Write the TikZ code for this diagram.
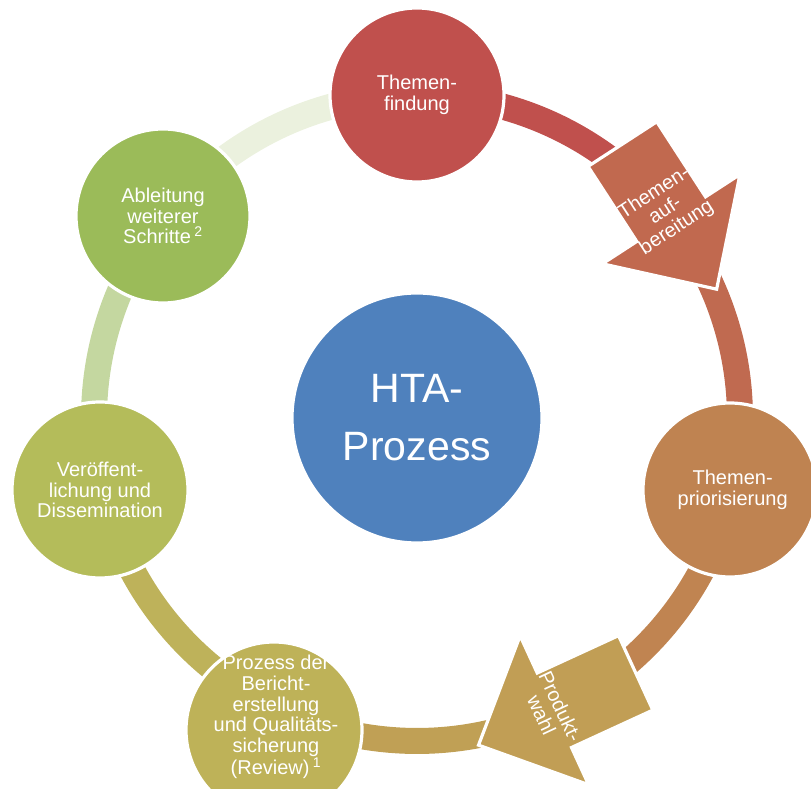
\documentclass[tikz,border=0pt]{standalone}
\usepackage{fontspec}
\setmainfont{Liberation Sans}
\definecolor{cHub}{HTML}{4F81BD}
\definecolor{cFind}{HTML}{C0504D}
\definecolor{cAufb}{HTML}{C1694F}
\definecolor{cArcB}{HTML}{C06A50}
\definecolor{cPrio}{HTML}{BF8351}
\definecolor{cArcC}{HTML}{C08451}
\definecolor{cProd}{HTML}{C19E55}
\definecolor{cArcD}{HTML}{C0A055}
\definecolor{cBer}{HTML}{BEB258}
\definecolor{cArcE}{HTML}{BEB25A}
\definecolor{cVer}{HTML}{B4BC5A}
\definecolor{cArcF}{HTML}{C4D7A0}
\definecolor{cAbl}{HTML}{9BBB59}
\definecolor{cArcG}{HTML}{EBF1DE}
\begin{document}
\begin{tikzpicture}[x=0.75pt,y=0.75pt,
  band/.style={line width=19.5pt},
  sat/.style={circle, fill=#1, draw=white, line width=2.4pt,
              minimum size=130.5pt, inner sep=0pt},
  lbl/.style={text=white, align=center, inner sep=0pt,
              font=\fontsize{15}{15.5}\selectfont},
  blockarrow/.pic={
    \path[pic actions] (-86.5,-41) -- (3,-41) -- (3,-82) -- (86.5,0)
      -- (3,82) -- (3,41) -- (-86.5,41) -- cycle;
  }
]
\useasboundingbox (0,0) rectangle (811,789);
\clip (0,0) rectangle (811,789);

% ring of the cycle and its seven slots
\coordinate (ring) at (417,371);
\path (ring) ++(90:242.25pt)     coordinate (s0);
\path (ring) ++(38.57:242.25pt)  coordinate (s1);
\path (ring) ++(-12.86:242.25pt) coordinate (s2);
\path (ring) ++(-64.29:242.25pt) coordinate (s3);
\path (ring) ++(-115.71:242.25pt) coordinate (s4);
\path (ring) ++(-167.14:242.25pt) coordinate (s5);
\path (ring) ++(141.43:242.25pt) coordinate (s6);

% connecting arcs
\draw[band, cFind] (s0) arc[start angle=90, end angle=38.57, radius=242.25pt];
\draw[band, cArcB] (s1) arc[start angle=38.57, end angle=-12.86, radius=242.25pt];
\draw[band, cArcC] (s2) arc[start angle=-12.86, end angle=-64.29, radius=242.25pt];
\draw[band, cArcD] (s3) arc[start angle=-64.29, end angle=-115.71, radius=242.25pt];
\draw[band, cArcE] (s4) arc[start angle=-115.71, end angle=-167.14, radius=242.25pt];
\draw[band, cArcF] (s5) arc[start angle=-167.14, end angle=-218.57, radius=242.25pt];
\draw[band, cArcG] (s6) arc[start angle=141.43, end angle=90, radius=242.25pt];

% step circles
\node[sat=cFind] (find) at (s0) {};
\node[sat=cPrio] (prio) at (730,299) {};
\node[sat=cBer, minimum size=132pt] (ber) at (274,59) {};
\node[sat=cVer, minimum size=132pt] (ver) at (100,299) {};
\node[sat=cAbl] (abl) at (163,573) {};

% centre
\node[circle, fill=cHub, draw=white, line width=2.4pt, minimum size=187.5pt,
      inner sep=0pt, text=white, align=center,
      font=\fontsize{30.75}{43.5}\selectfont] (hub) at (ring) {HTA-\\Prozess};

% block arrows on the ring
\pic[rotate=-57, fill=cAufb, draw=white, line width=2.4pt] (aufb) at (s1) {blockarrow};
\pic[rotate=204.7, fill=cProd, draw=white, line width=2.4pt] (prod) at (s3) {blockarrow};

% labels
\node[lbl] (find-t) at (find) {Themen-\\findung};
\node[lbl] (prio-t) at ([xshift=2]prio) {Themen-\\priorisierung};
\node[lbl] (ber-t) at (276,72) {Prozess der\\Bericht-\\erstellung\\und Qualitäts-\\sicherung\\(Review)\,\textsuperscript{1}};
\node[lbl] (ver-t) at (ver) {Veröffent-\\lichung und\\Dissemination};
\node[lbl] (abl-t) at (abl) {Ableitung\\weiterer\\Schritte\,\textsuperscript{2}};
\node[lbl, rotate=33] (aufb-t) at ([shift={(-4,6)}]s1) {Themen-\\auf-\\bereitung};
\node[lbl, rotate=-65] (prod-t) at ([shift={(-6,-2)}]s3) {Produkt-\\wahl};
\end{tikzpicture}
\end{document}
